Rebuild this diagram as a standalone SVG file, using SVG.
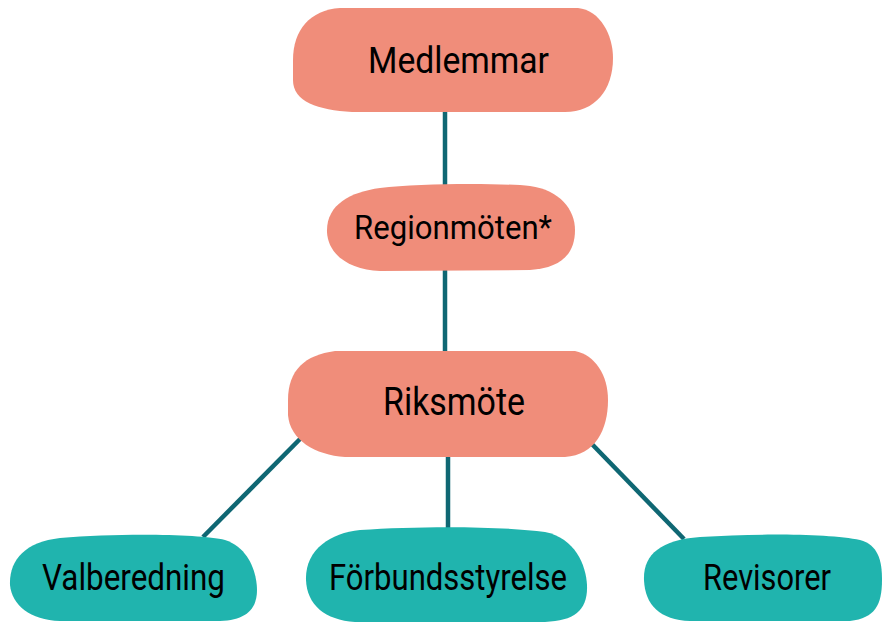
<svg xmlns="http://www.w3.org/2000/svg" width="882" height="623" viewBox="0 0 882 623">
<style>
.salmon{fill:#F08D7A}
.teal{fill:#20B4AE}
.edge{stroke:#0F6773;stroke-width:4.5;fill:none}
text{font-family:Roboto,"Liberation Sans",sans-serif;fill:#000;text-anchor:start}
</style>
<rect width="882" height="623" fill="#fff"/>
<g id="connectors">
<line class="edge" x1="445" y1="110" x2="445" y2="188"/>
<line class="edge" x1="445" y1="268" x2="445" y2="354"/>
<line class="edge" x1="448" y1="454" x2="448" y2="531"/>
<line class="edge" x1="302" y1="437" x2="203" y2="537"/>
<line class="edge" x1="588" y1="440" x2="684" y2="539"/>
</g>
<g id="medlemmar">
<path class="salmon" d="M 340 8 L 578 8 C 600 10 613 35 613 58 C 613 90 595 112 565 112 L 352 112 C 318 110 293 102 293 80 L 293 60 C 293 30 310 10 340 8 Z"/>
<text x="368" y="73" font-size="37" textLength="181" lengthAdjust="spacingAndGlyphs">Medlemmar</text>
</g>
<g id="regionmoten">
<path class="salmon" d="M 380 188 C 420 183 500 183 530 186 C 560 190 575 210 575 230 C 575 255 560 268 530 270 L 380 271 C 350 270 328 255 327 232 C 326 205 350 192 380 188 Z"/>
<text x="354" y="239" font-size="34" textLength="198" lengthAdjust="spacingAndGlyphs">Regionmöten*</text>
</g>
<g id="riksmote">
<path class="salmon" d="M 335 351 L 575 351 C 595 355 608 375 608 400 C 608 430 595 455 565 457 L 345 457 C 315 455 290 440 288 415 L 288 400 C 288 370 305 355 335 351 Z"/>
<text x="383" y="415" font-size="38" textLength="142" lengthAdjust="spacingAndGlyphs">Riksmöte</text>
</g>
<g id="valberedning">
<path class="teal" d="M 60 538 C 120 533 200 534 225 540 C 250 548 257 575 257 590 C 257 610 245 620 220 621 L 60 621 C 30 620 12 605 10 585 C 9 560 25 542 60 538 Z"/>
<text x="42" y="590" font-size="37" textLength="183" lengthAdjust="spacingAndGlyphs">Valberedning</text>
</g>
<g id="forbundsstyrelse">
<path class="teal" d="M 360 530 C 420 526 500 526 545 532 C 575 538 586 565 587 585 C 588 610 575 621 545 622 L 355 622 C 325 620 307 605 306 580 C 305 550 330 533 360 530 Z"/>
<text x="329" y="590" font-size="37" textLength="238" lengthAdjust="spacingAndGlyphs">Förbundsstyrelse</text>
</g>
<g id="revisorer">
<path class="teal" d="M 700 537 C 760 533 830 534 860 540 C 878 545 882 560 882 580 C 882 605 875 618 850 621 L 690 621 C 660 620 645 605 644 580 C 643 555 660 540 700 537 Z"/>
<text x="703" y="590" font-size="37" textLength="128" lengthAdjust="spacingAndGlyphs">Revisorer</text>
</g>
</svg>
